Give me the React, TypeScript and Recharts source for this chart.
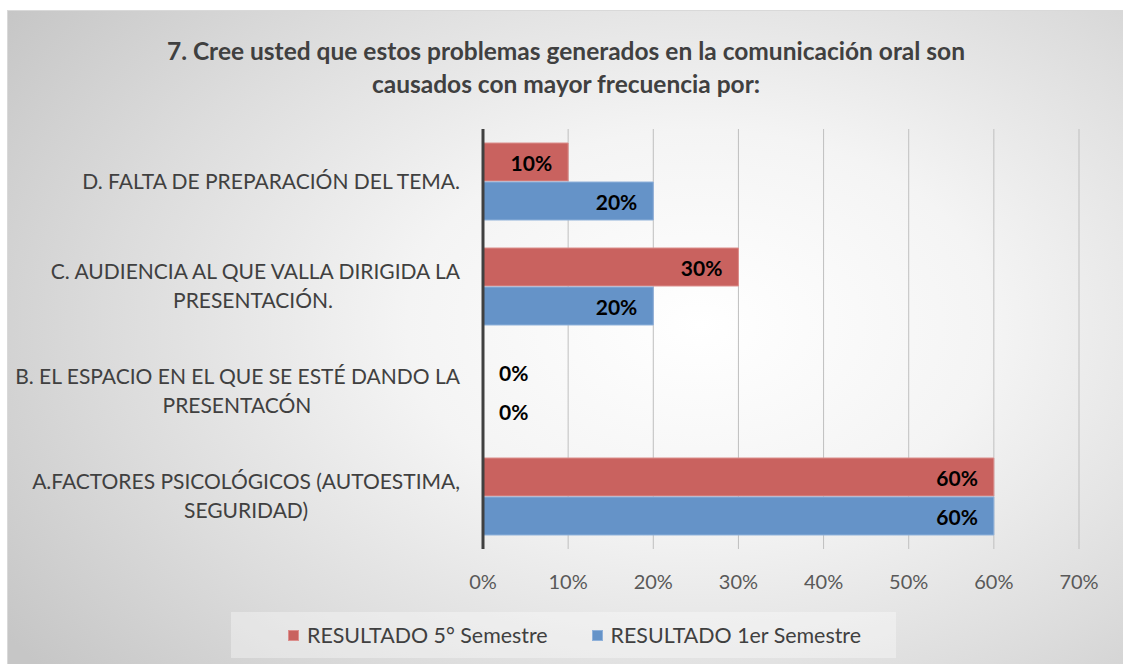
import React from 'react';
import { BarChart, Bar, XAxis, YAxis, CartesianGrid, LabelList, Rectangle } from 'recharts';

// categorías (de arriba hacia abajo), con salto de línea como en el original
const categories = [
    'D. FALTA DE PREPARACIÓN DEL TEMA.',
    'C. AUDIENCIA AL QUE VALLA DIRIGIDA LA\nPRESENTACIÓN.',
    'B. EL ESPACIO EN EL QUE SE ESTÉ DANDO LA\nPRESENTACÓN',
    'A.FACTORES PSICOLÓGICOS (AUTOESTIMA,\nSEGURIDAD)',
];
const quintoSemestre = [0.1, 0.3, 0, 0.6];
const primerSemestre = [0.2, 0.2, 0, 0.6];
const xTicks = [0, 0.1, 0.2, 0.3, 0.4, 0.5, 0.6, 0.7];
const seriesNames = ['RESULTADO 5° Semestre', 'RESULTADO 1er Semestre'];
const title = ['7. Cree usted que estos problemas generados en la comunicación oral son', 'causados con mayor frecuencia por:'];

const data = categories.map((c, i) => ({ name: c, quinto: quintoSemestre[i], primero: primerSemestre[i] }));

const FONT = 'Lato, "Open Sans", sans-serif';
const RED = '#c9625f';
const BLUE = '#6593c8';
const pct = (v: number) => `${Math.round(v * 100)}%`;

let ctx: CanvasRenderingContext2D | null = null;
const measure = (text: string, font: string) => {
    if (!ctx) ctx = document.createElement('canvas').getContext('2d');
    if (!ctx) return text.length * 10;
    ctx.font = font;
    return ctx.measureText(text).width;
};

// tick del eje Y: primera línea alineada a la derecha, segunda centrada respecto a la primera
const CategoryTick = (props: any) => {
    const { x, y, payload } = props;
    const lines: string[] = String(payload.value).split('\n');
    const lh = 29;
    const right = x - 15;
    const w1 = measure(lines[0], `21px ${FONT}`);
    const startY = y - ((lines.length - 1) * lh) / 2;
    return (
        <g>
            {lines.map((l, i) => (
                <text
                    key={i}
                    x={i === 0 ? right : right - w1 / 2}
                    y={startY + i * lh}
                    dy="0.35em"
                    textAnchor={i === 0 ? 'end' : 'middle'}
                    fontSize={21}
                    fontFamily={FONT}
                    fill="#404040"
                >
                    {l}
                </text>
            ))}
        </g>
    );
};

const ValueLabel = (props: any) => {
    const { x, y, width, height, value } = props;
    const zero = !value;
    return (
        <text
            x={zero ? x + 16 : x + width - 16}
            y={y + height / 2 + 2}
            dy="0.35em"
            textAnchor={zero ? 'start' : 'end'}
            fontSize={21}
            fontWeight={700}
            fontFamily={FONT}
            fill="#000"
        >
            {pct(value)}
        </text>
    );
};

// las barras de 0% no se dibujan, pero conservan su etiqueta
const BarShape = (props: any) => (props.width < 1 ? <g /> : <Rectangle {...props} />);
const tinyForZero = (v: any) => (v === 0 ? 0.01 : 0);

export default function App() {
    return (
        <div style={{ position: 'absolute', left: 0, top: 0, width: 1123, height: 664, background: '#fff', overflow: 'hidden' }}>
            <div
                style={{
                    position: 'absolute', left: 7, top: 10, width: 1116, height: 654,
                    background: 'radial-gradient(ellipse 75% 85% at 62% 48%, #ffffff 0%, #f4f4f4 35%, #dcdcdc 70%, #c6c6c6 100%)',
                    borderTop: '1px solid #d9d9d9', borderLeft: '1px solid #d9d9d9',
                    fontFamily: FONT,
                }}
            >
                <div style={{ position: 'absolute', left: 0, top: 23, width: 1116, textAlign: 'center', fontWeight: 700, fontSize: 24.5, lineHeight: '33px', color: '#404040' }}>
                    {title.map((t, i) => <div key={i}>{t}</div>)}
                </div>
                <BarChart
                    width={1116}
                    height={654}
                    data={data}
                    layout="vertical"
                    margin={{ top: 118, right: 45, left: 0, bottom: 76 }}
                    barSize={38}
                    barGap={1}
                >
                    <CartesianGrid horizontal={false} stroke="#bfbfbf" strokeWidth={1} />
                    <XAxis
                        type="number"
                        domain={[0, 0.7]}
                        ticks={xTicks}
                        tickFormatter={pct}
                        axisLine={false}
                        tickLine={false}
                        tickSize={0}
                        tickMargin={26}
                        height={40}
                        tick={{ fontSize: 20, fill: '#595959', fontFamily: FONT }}
                    />
                    <YAxis
                        type="category"
                        dataKey="name"
                        width={475}
                        axisLine={{ stroke: '#404040', strokeWidth: 3 }}
                        tickLine={false}
                        tick={<CategoryTick />}
                        interval={0}
                    />
                    <Bar dataKey="quinto" name={seriesNames[0]} fill={RED} stroke="#dc8f8d" strokeWidth={1} minPointSize={tinyForZero} shape={<BarShape />} isAnimationActive={false}>
                        <LabelList dataKey="quinto" content={<ValueLabel />} />
                    </Bar>
                    <Bar dataKey="primero" name={seriesNames[1]} fill={BLUE} stroke="#8fb1da" strokeWidth={1} minPointSize={tinyForZero} shape={<BarShape />} isAnimationActive={false}>
                        <LabelList dataKey="primero" content={<ValueLabel />} />
                    </Bar>
                </BarChart>
                <div
                    style={{
                        position: 'absolute', left: 223, top: 601, width: 665, height: 46, boxSizing: 'border-box', paddingLeft: 22,
                        background: 'rgba(255,255,255,0.35)', display: 'flex', alignItems: 'center',
                        justifyContent: 'center', gap: 44, fontSize: 21.4, color: '#404040',
                    }}
                >
                    {seriesNames.map((n, i) => (
                        <div key={n} style={{ display: 'flex', alignItems: 'center' }}>
                            <span style={{ display: 'inline-block', width: 9, height: 9, background: i === 0 ? RED : BLUE, border: `1px solid ${i === 0 ? '#dc8f8d' : '#8fb1da'}`, marginRight: 8 }} />
                            <span>{n}</span>
                        </div>
                    ))}
                </div>
            </div>
        </div>
    );
}
